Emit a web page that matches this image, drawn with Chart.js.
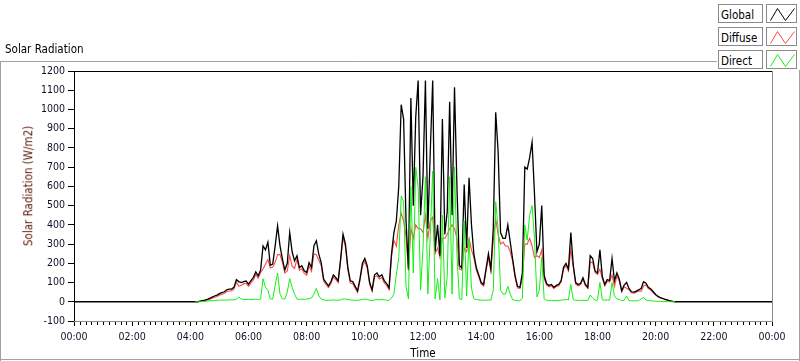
<!DOCTYPE html>
<html>
<head>
<meta charset="utf-8">
<script src="https://cdn.jsdelivr.net/npm/chart.js@4.4.1/dist/chart.umd.min.js"></script>
<style>
  html, body { margin:0; padding:0; background:#fff; }
  body { width:800px; height:361px; position:relative; overflow:hidden;
         font-family:"DejaVu Sans Condensed", "Liberation Sans", Arial, sans-serif; color:#000; }
  #c { position:absolute; left:0; top:0; }
  .txt { position:absolute; white-space:nowrap; line-height:1; }
  #title { left:5px; top:44px; font-size:11.5px; }
  #ytitle { left:29px; top:186px; font-size:11.5px; color:#5c1a08;
            transform:translate(-50%,-50%) rotate(-90deg); }
  #xtitle { left:423px; top:348px; font-size:11.5px; transform:translateX(-50%); }
  .lrow { position:absolute; left:718px; height:19px; width:80px; }
  .lbox { position:absolute; left:0; top:0; width:45px; height:19px; box-sizing:border-box;
          border:1px solid #8a8a8a; background:#fff; font-size:11.5px; padding:3px 0 0 2px; }
  .licon { position:absolute; left:48px; top:0; width:31px; height:19px; box-sizing:border-box;
           border:1px solid #8a8a8a; background:#fff; }
  .licon svg { position:absolute; left:0; top:0; }
</style>
</head>
<body>
<canvas id="c" width="800" height="361"></canvas>
<div id="title" class="txt">Solar Radiation</div>
<div id="ytitle" class="txt">Solar Radiation (W/m2)</div>
<div id="xtitle" class="txt">Time</div>
<div id="legend"></div>
<script>
// ---- data (5-minute samples starting at 04:10) ----
const sampleStartMinutes = 250;   // 04:10
const sampleStepMinutes = 5;

const seriesNames = ['Global', 'Diffuse', 'Direct'];

const globalValues = [
  0,0,3,6,9,13,18,24,30,35,
  42,48,52,62,66,66,75,115,105,100,
  105,108,92,110,126,155,135,165,290,270,
  310,190,196,291,395,291,222,165,200,360,
  260,213,239,178,187,161,152,204,178,291,
  317,248,204,118,100,83,104,139,126,109,
  222,352,300,178,109,105,80,57,120,200,
  225,187,100,62,140,150,130,140,110,95,
  72,250,360,420,600,1025,950,420,170,1060,
  500,960,1150,450,650,1150,380,780,1150,263,
  400,240,950,350,470,1040,450,1115,600,190,
  175,610,280,645,400,246,177,140,100,90,
  170,250,170,380,985,780,360,330,330,400,
  310,220,135,80,75,150,700,690,750,830,
  560,260,300,500,135,95,85,90,75,85,
  90,110,180,200,170,360,190,100,90,95,
  125,90,75,240,225,160,150,270,130,90,
  115,110,225,109,150,118,57,87,100,69,
  52,50,55,62,69,104,97,75,66,52,
  38,28,21,17,12,9,5,2,0
];

const diffuseValues = [
  0,0,3,5,7,10,13,18,23,27,
  34,39,43,53,56,56,65,103,80,86,
  93,96,80,98,114,141,123,151,170,195,
  220,175,180,205,245,245,205,150,160,240,
  185,173,222,165,172,148,138,186,158,250,
  245,216,188,106,90,74,94,127,116,99,
  210,335,284,164,97,95,70,48,108,186,
  209,173,90,54,128,136,118,126,98,85,
  63,230,320,290,400,460,420,340,160,380,
  330,400,380,380,360,450,330,420,440,250,
  280,230,330,330,350,380,400,380,330,170,
  165,280,260,330,270,230,165,130,92,82,
  160,230,160,320,430,350,300,310,290,290,
  260,210,125,72,70,120,300,300,330,290,
  230,240,230,270,120,87,78,83,69,79,
  83,102,170,188,160,270,180,92,83,88,
  117,83,69,205,205,152,142,170,120,82,
  105,102,140,79,135,106,52,79,70,63,
  47,45,50,56,54,82,88,69,61,48,
  35,26,19,16,11,8,5,2,0
];

const directValues = [
  0,0,0,1,2,3,5,6,7,8,
  8,9,9,9,10,10,10,12,25,14,
  12,12,12,12,12,14,12,14,120,75,
  60,15,14,85,150,40,15,14,50,120,
  75,40,14,12,14,12,14,16,20,40,
  70,30,14,10,8,8,8,10,8,8,
  10,15,14,12,10,8,8,7,10,12,
  14,12,8,6,10,12,10,12,10,8,
  7,20,40,140,230,550,520,80,15,600,
  150,700,600,60,280,650,40,350,680,15,
  120,10,450,20,130,650,40,700,250,15,
  12,420,30,330,70,15,12,10,8,8,
  8,10,8,60,520,380,60,40,40,80,
  40,10,8,5,5,20,400,320,450,500,
  330,25,60,230,15,8,7,7,6,6,
  7,8,10,12,10,90,10,8,7,7,
  8,7,6,35,20,8,8,100,10,8,
  10,8,100,30,15,12,5,8,30,6,
  5,5,5,6,15,22,9,6,5,4,
  3,2,2,1,1,1,0,0,0
];

// Global is recorded as zero through the night (00:00 and 24:00 end points)
const nightGlobal = [ {hour:0, value:0}, {hour:24, value:0} ];

const xTickLabels = ['00:00','02:00','04:00','06:00','08:00','10:00','12:00',
                     '14:00','16:00','18:00','20:00','22:00','00:00'];
const yTickValues = [-100,0,100,200,300,400,500,600,700,800,900,1000,1100,1200];

// ---- build points ----
function toPoints(values) {
  return values.map((v, i) => ({ x: (sampleStartMinutes + i * sampleStepMinutes) / 60, y: v }));
}
const globalPts = [{x: nightGlobal[0].hour, y: nightGlobal[0].value}]
  .concat(toPoints(globalValues))
  .concat([{x: nightGlobal[1].hour, y: nightGlobal[1].value}]);
const diffusePts = toPoints(diffuseValues);
const directPts = toPoints(directValues);

const colors = { Global:'#000000', Diffuse:'#ff4848', Direct:'#14f014' };
const fontFamily = '"DejaVu Sans Condensed", "Liberation Sans", Arial, sans-serif';
const tickFont = { family: fontFamily, size:10.5 };

// ---- legend (HTML) ----
const legend = document.getElementById('legend');
seriesNames.forEach((name, i) => {
  const row = document.createElement('div');
  row.className = 'lrow';
  row.style.top = (4 + i * 23) + 'px';
  row.innerHTML = '<div class="lbox">' + name + '</div>' +
    '<div class="licon"><svg width="31" height="19"><polyline points="3.5,15.5 10.5,3.5 18.5,15.5 27.5,3.5" fill="none" stroke="' +
    colors[name] + '" stroke-width="1"/></svg></div>';
  legend.appendChild(row);
});

// ---- decorations: outer frame, plot frame, minor time ticks ----
const framePlugin = {
  id: 'frame',
  afterDraw(chart) {
    const c = chart.ctx, a = chart.chartArea, xs = chart.scales.x;
    c.save();
    c.lineWidth = 1;
    c.strokeStyle = '#a0a0a0';
    c.beginPath();
    c.moveTo(0, 61.5); c.lineTo(717, 61.5);
    c.moveTo(0.5, 61); c.lineTo(0.5, 361);
    c.moveTo(0, 359.5); c.lineTo(800, 359.5);
    c.moveTo(799.5, 70); c.lineTo(799.5, 361);
    c.stroke();
    c.strokeStyle = '#000';
    c.beginPath();
    c.moveTo(a.left, Math.round(a.top) + 0.5); c.lineTo(a.right, Math.round(a.top) + 0.5);
    c.stroke();
    c.strokeStyle = '#8c8c8c';
    c.beginPath();
    c.moveTo(Math.round(a.right) + 0.5, a.top); c.lineTo(Math.round(a.right) + 0.5, a.bottom);
    c.moveTo(a.left, Math.round(a.bottom) + 0.5); c.lineTo(a.right + 1, Math.round(a.bottom) + 0.5);
    c.stroke();
    c.strokeStyle = '#000';
    c.beginPath();
    for (let m = 12; m < 24 * 60; m += 12) {
      if (m % 120 === 0) continue;
      const px = Math.round(xs.getPixelForValue(m / 60)) + 0.5;
      c.moveTo(px, Math.round(a.bottom) + 1); c.lineTo(px, Math.round(a.bottom) + 4);
    }
    c.stroke();
    c.restore();
  }
};

new Chart(document.getElementById('c'), {
  type: 'line',
  data: {
    datasets: [
      { label:'Direct', data: directPts, borderColor: colors.Direct, borderWidth:1, pointRadius:0, tension:0, order:0 },
      { label:'Global', data: globalPts, borderColor: colors.Global, borderWidth:1.3, pointRadius:0, tension:0, order:1 },
      { label:'Diffuse', data: diffusePts, borderColor: colors.Diffuse, borderWidth:1.1, pointRadius:0, tension:0, order:2 }
    ]
  },
  options: {
    responsive: false,
    animation: false,
    devicePixelRatio: 1,
    layout: { padding: { left:0, top:71, right:28, bottom:0 } },
    plugins: { legend: { display:false }, tooltip: { enabled:false }, title: { display:false } },
    scales: {
      x: {
        type: 'linear', min: 0, max: 24,
        afterFit(s) { s.height = 40; },
        afterBuildTicks(s) { s.ticks = xTickLabels.map((_, i) => ({ value: i * 2 })); },
        ticks: { autoSkip:false, maxRotation:0, padding:5, color:'#101028', font: tickFont,
                 callback: (v, i) => xTickLabels[i] },
        grid: { drawOnChartArea:false, drawTicks:true, tickLength:5, color:'#000', lineWidth:1 },
        border: { display:false }
      },
      y: {
        min: -100, max: 1200,
        afterFit(s) { s.width = 74; },
        afterBuildTicks(s) { s.ticks = yTickValues.map(v => ({ value: v })); },
        ticks: { padding:3, color:'#101028', font: tickFont, callback: v => String(v) },
        grid: { drawOnChartArea:false, drawTicks:true, tickLength:6, color:'#000', lineWidth:1 },
        border: { display:true, color:'#000', width:1 }
      }
    }
  },
  plugins: [framePlugin]
});
</script>
</body>
</html>
